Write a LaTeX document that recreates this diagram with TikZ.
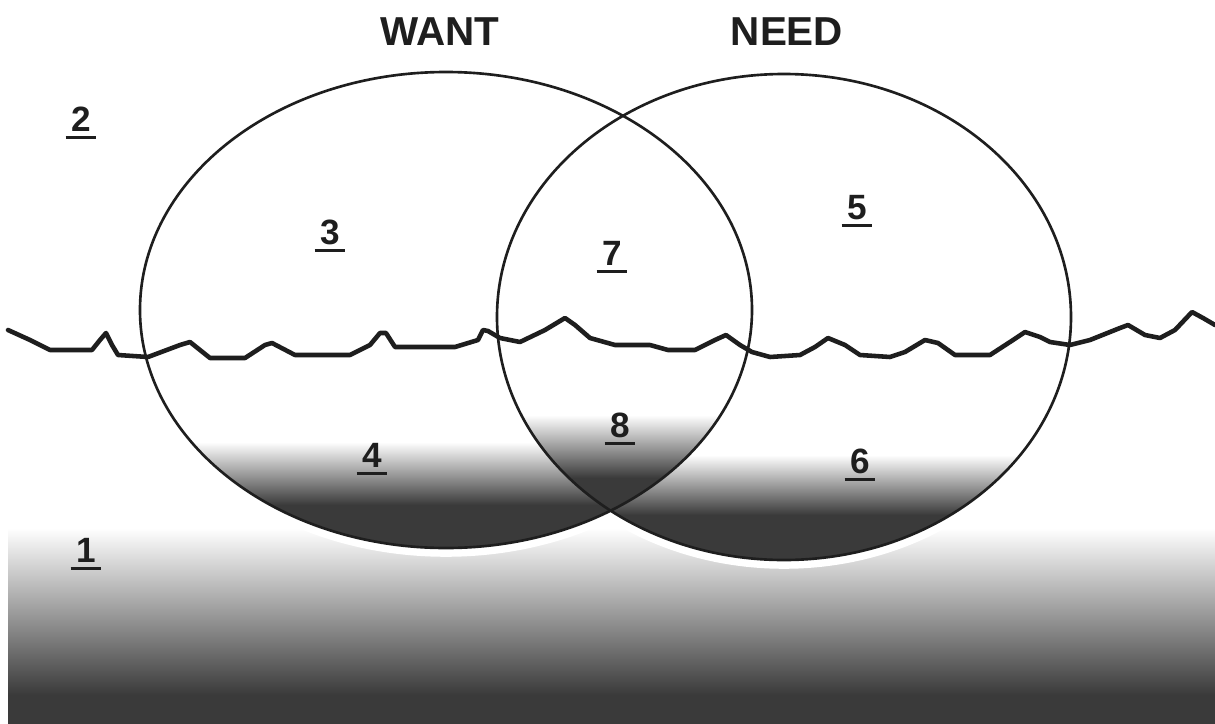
\documentclass[tikz,border=0pt]{standalone}
\usepackage{fontspec}
\setmainfont{Liberation Sans}
\definecolor{dk}{HTML}{3A3A3A}
\definecolor{ink}{HTML}{1E1E1E}
\tikzset{
  outline/.style={draw=ink, line width=1.5pt},
  wave/.style={draw=ink, line width=2.6pt, line join=round, line cap=round},
  title/.style={font=\bfseries\fontsize{23}{28}\selectfont, text=ink, anchor=base, inner sep=0pt},
  digit/.style={font=\bfseries\fontsize{20}{24}\selectfont, text=ink, anchor=base, inner sep=0pt},
  uline/.style={draw=ink, line width=1.7pt},
  halo/.style={draw=white, line width=10pt}
}
\newcommand{\dnum}[3]{%
  \node[digit] (#1) at (#2) {#3};
  \draw[uline] ([xshift=-3pt,yshift=-3.5pt]#1.base west) -- ([xshift=3pt,yshift=-3.5pt]#1.base east);
}
\begin{document}
\begin{tikzpicture}[x=0.02cm,y=-0.02cm]
\useasboundingbox (0,0) rectangle (1215,724);
\fill[white] (0,0) rectangle (1215,724);
% ground shading (region 1)
\shade[top color=white, bottom color=dk] (8,528) rectangle (1215,695);
\fill[dk] (8,695) rectangle (1215,724);
% halo and white interiors
\path[halo, fill=white] (446,310) ellipse [x radius=306, y radius=238];
\path[halo, fill=white] (784,317) ellipse [x radius=287, y radius=243];
\fill[white] (446,310) ellipse [x radius=306, y radius=238];
% shading inside the WANT circle
\begin{scope}
  \clip (446,310) ellipse [x radius=306, y radius=238];
  \shade[top color=white, bottom color=dk] (130,442) rectangle (760,505);
  \fill[dk] (130,505) rectangle (760,560);
\end{scope}
% shading inside the NEED circle
\begin{scope}
  \clip (784,317) ellipse [x radius=287, y radius=243];
  \shade[top color=white, bottom color=dk] (490,455) rectangle (1080,515);
  \fill[dk] (490,515) rectangle (1080,570);
\end{scope}
% shading of the overlap
\begin{scope}
  \clip (446,310) ellipse [x radius=306, y radius=238];
  \clip (784,317) ellipse [x radius=287, y radius=243];
  \shade[top color=white, bottom color=dk] (490,415) rectangle (760,478);
  \fill[dk] (490,478) rectangle (760,560);
\end{scope}
% outlines
\draw[outline] (446,310) ellipse [x radius=306, y radius=238];
\draw[outline] (784,317) ellipse [x radius=287, y radius=243];
% wavy line
\draw[wave] (8,330) -- (30,340) -- (50,350) -- (92,350) -- (100,340) -- (106,333) -- (112,345) -- (118,355)
  -- (148,357) -- (180,345) -- (190,342) -- (210,358) -- (245,358) -- (265,345) -- (272,343) -- (295,355)
  -- (350,355) -- (370,345) -- (380,333) -- (386,333) -- (395,347) -- (455,347) -- (478,340) -- (483,330)
  -- (488,331) -- (500,338) -- (520,342) -- (545,330) -- (565,318) -- (575,325) -- (590,338) -- (615,345)
  -- (650,345) -- (668,350) -- (695,350) -- (715,340) -- (726,335) -- (740,345) -- (752,352) -- (770,357)
  -- (800,355) -- (815,347) -- (828,338) -- (845,345) -- (860,355) -- (890,357) -- (905,352) -- (925,340)
  -- (938,343) -- (955,355) -- (990,355) -- (1010,342) -- (1025,332) -- (1040,337) -- (1050,342) -- (1070,345)
  -- (1090,340) -- (1120,328) -- (1128,325) -- (1145,335) -- (1160,338) -- (1175,330) -- (1192,312)
  -- (1203,318) -- (1215,325);
% titles
\node[title] (want) at (440,45) {WANT};
\node[title] (need) at (787,45) {NEED};
% region numbers
\dnum{n1}{86,562}{1}
\dnum{n2}{81,131}{2}
\dnum{n3}{330,244}{3}
\dnum{n4}{372,467}{4}
\dnum{n5}{857,219}{5}
\dnum{n6}{860,473}{6}
\dnum{n7}{612,265}{7}
\dnum{n8}{620,437}{8}
\end{tikzpicture}
\end{document}
